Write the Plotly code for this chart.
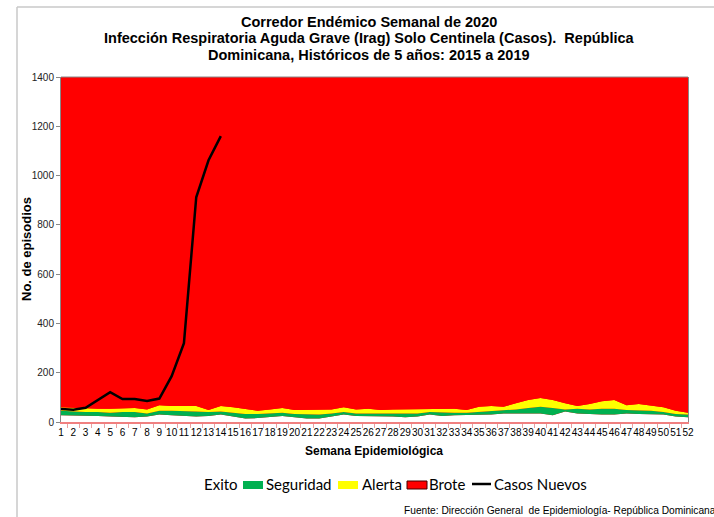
import plotly.graph_objects as go

weeks = [str(i) for i in range(1, 53)]

exito = [27, 27, 24, 24, 22, 19, 19, 22, 30, 27, 24, 22, 24,
         30, 22, 14, 16, 19, 24, 19, 14, 14, 22, 30, 24, 24,
         24, 22, 19, 22, 30, 24, 27, 27, 27, 30, 35, 35, 35,
         35, 27, 43, 35, 32, 30, 30, 35, 32, 32, 30, 22, 19]
seguridad = [46, 43, 41, 41, 38, 41, 41, 35, 46, 46, 43, 43, 41,
             43, 38, 32, 32, 35, 38, 32, 30, 30, 35, 41, 35, 35,
             35, 35, 32, 35, 41, 38, 38, 38, 41, 43, 49, 51, 57,
             62, 57, 51, 54, 51, 54, 54, 49, 49, 46, 41, 32, 30]
alerta = [60, 57, 57, 54, 54, 57, 57, 51, 68, 65, 65, 65, 49,
          65, 60, 54, 46, 51, 57, 49, 49, 49, 51, 60, 51, 54,
          49, 51, 51, 54, 54, 54, 54, 49, 62, 65, 62, 76, 89,
          97, 89, 76, 65, 73, 84, 89, 68, 73, 65, 60, 46, 38]
brote = [1400] * 52
casos_nuevos = [53, 50, 58, 88, 121, 93, 93, 85, 95, 186, 320, 912, 1062, 1160]

title_lines = ["Corredor Endémico Semanal de 2020",
               "Infección Respiratoria Aguda Grave (Irag) Solo Centinela (Casos).  República",
               "Dominicana, Históricos de 5 años: 2015 a 2019"]
legend_names = ["Exito", "Seguridad", "Alerta", "Brote", "Casos Nuevos"]
source_text = "Fuente: Dirección General  de Epidemiología- República Dominicana"

W, H = 714, 517
L, R, T, B = 61, 688, 77, 422


def px(xp):
    return (xp - L) / (R - L)


def py(yp):
    return (B - yp) / (B - T)


fig = go.Figure()
fig.add_trace(go.Scatter(x=weeks, y=exito, name=legend_names[0], mode="lines",
                         line=dict(color="white", width=0), fill="tozeroy",
                         fillcolor="white"))
fig.add_trace(go.Scatter(x=weeks, y=seguridad, name=legend_names[1], mode="lines",
                         line=dict(color="#00b050", width=0), fill="tonexty",
                         fillcolor="#00b050"))
fig.add_trace(go.Scatter(x=weeks, y=alerta, name=legend_names[2], mode="lines",
                         line=dict(color="#ffff00", width=0), fill="tonexty",
                         fillcolor="#ffff00"))
fig.add_trace(go.Scatter(x=weeks, y=brote, name=legend_names[3], mode="lines",
                         line=dict(color="#ff0000", width=0), fill="tonexty",
                         fillcolor="#ff0000"))
fig.add_trace(go.Scatter(x=weeks[:len(casos_nuevos)], y=casos_nuevos, name=legend_names[4],
                         mode="lines", line=dict(color="black", width=2.5)))

title_font = dict(family="Liberation Sans, Arial, sans-serif", size=14.5,
                  color="black", weight="bold")
annotations = []
for line, yp in zip(title_lines, [22, 38, 55]):
    annotations.append(dict(text=line, xref="paper", yref="paper", x=px(369),
                            y=py(yp), xanchor="center", yanchor="middle",
                            showarrow=False, font=title_font))

# axis titles
annotations.append(dict(text="No. de episodios", xref="paper", yref="paper",
                        x=px(26), y=py(249), xanchor="center", yanchor="middle",
                        textangle=-90, showarrow=False,
                        font=dict(family="Liberation Sans, Arial, sans-serif", size=13,
                                  color="black", weight="bold")))
annotations.append(dict(text="Semana Epidemiológica", xref="paper", yref="paper",
                        x=px(374), y=py(451), xanchor="center", yanchor="middle",
                        showarrow=False,
                        font=dict(family="Liberation Sans, Arial, sans-serif", size=12,
                                  color="black", weight="bold")))

# manual legend
leg_font = dict(family="Lato, Open Sans, sans-serif", size=15, color="black")
leg_y = 484
for name, xt in zip(legend_names, [202, 264, 360, 427, 492]):
    annotations.append(dict(text=name, xref="paper", yref="paper", x=px(xt),
                            y=py(leg_y), xanchor="left", yanchor="middle",
                            showarrow=False, font=leg_font))

annotations.append(dict(text=source_text, xref="paper", yref="paper",
                        x=px(402), xanchor="left", y=py(510), yanchor="middle",
                        showarrow=False,
                        font=dict(family="Liberation Sans, Arial, sans-serif",
                                  size=10.2, color="black")))

shapes = [
    dict(type="line", xref="paper", yref="paper", x0=0, x1=1, y0=1, y1=1,
         line=dict(color="#888888", width=1)),
    dict(type="line", xref="paper", yref="paper", x0=px(17), x1=px(714),
         y0=py(7), y1=py(7), line=dict(color="#c8c8c8", width=1.5)),
    dict(type="line", xref="paper", yref="paper", x0=px(17), x1=px(17),
         y0=py(517), y1=py(7), line=dict(color="#c8c8c8", width=1.5)),
    # legend symbols
    dict(type="rect", xref="paper", yref="paper", x0=px(243), x1=px(263),
         y0=py(489), y1=py(481), fillcolor="#00b050", line=dict(width=0)),
    dict(type="rect", xref="paper", yref="paper", x0=px(338), x1=px(358),
         y0=py(489), y1=py(481), fillcolor="#ffff00", line=dict(width=0)),
    dict(type="rect", xref="paper", yref="paper", x0=px(407), x1=px(427),
         y0=py(489), y1=py(481), fillcolor="#ff0000",
         line=dict(color="#400000", width=1)),
    dict(type="line", xref="paper", yref="paper", x0=px(472), x1=px(491),
         y0=py(leg_y), y1=py(leg_y), line=dict(color="black", width=2.5)),
]

fig.update_layout(
    width=W, height=H,
    margin=dict(l=L, r=W - R, t=T, b=H - B, autoexpand=False),
    paper_bgcolor="white",
    plot_bgcolor="#ff0000",
    font=dict(family="Liberation Sans, Arial, sans-serif", color="#222222"),
    showlegend=False,
    xaxis=dict(type="category", tickson="boundaries", ticks="outside",
               ticklen=4, tickcolor="#e8a0a0", showline=True, linecolor="#f08080",
               linewidth=1.5, showgrid=False, zeroline=False, tickangle=0,
               automargin=False,
               tickfont=dict(size=10, color="black")),
    yaxis=dict(range=[0, 1400], dtick=200, ticks="outside", ticklen=4,
               tickcolor="#888888", showline=True, linecolor="#888888",
               linewidth=1, mirror=True, showgrid=False, zeroline=False,
               automargin=False,
               tickfont=dict(size=10, color="#222222")),
    shapes=shapes,
    annotations=annotations,
)

fig.write_html("out.html", config={"displayModeBar": False},
               post_script="document.body.style.margin='0px';document.body.style.padding='0px';")
